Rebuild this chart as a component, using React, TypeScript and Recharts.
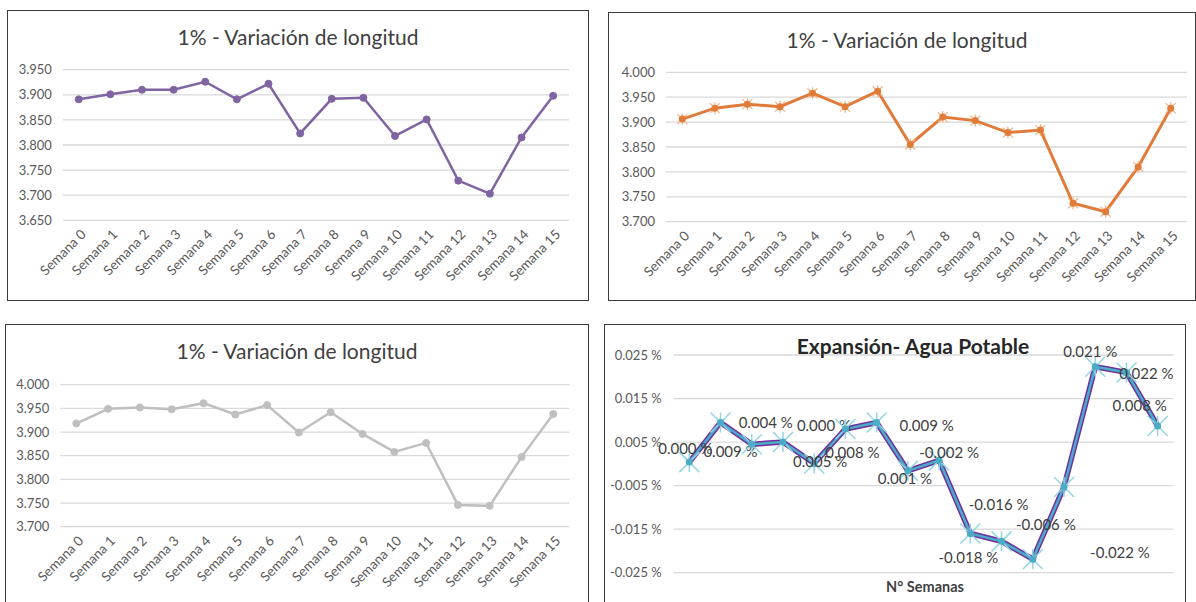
import React from "react";
import { LineChart, Line, XAxis, YAxis, CartesianGrid } from "recharts";

const weeks = [
  "Semana 0", "Semana 1", "Semana 2", "Semana 3", "Semana 4", "Semana 5", "Semana 6", "Semana 7",
  "Semana 8", "Semana 9", "Semana 10", "Semana 11", "Semana 12", "Semana 13", "Semana 14", "Semana 15",
];
const longitudA = [3.891, 3.901, 3.910, 3.910, 3.926, 3.891, 3.922, 3.823, 3.892, 3.894, 3.818, 3.851, 3.729, 3.703, 3.815, 3.898];
const longitudB = [3.906, 3.928, 3.936, 3.931, 3.958, 3.931, 3.962, 3.855, 3.910, 3.903, 3.879, 3.884, 3.737, 3.720, 3.810, 3.928];
const longitudC = [3.918, 3.949, 3.952, 3.948, 3.961, 3.937, 3.957, 3.899, 3.942, 3.896, 3.858, 3.877, 3.746, 3.744, 3.847, 3.938];
const expansion = [0.0004, 0.0095, 0.0045, 0.005, 0.0001, 0.008, 0.0095, -0.0016, 0.0008, -0.016, -0.0178, -0.0219, -0.0053, 0.0223, 0.021, 0.0087];
const expansionLabels = [
  "0.000 %", "0.009 %", "0.004 %", "0.000 %", "0.005 %", "0.008 %", "0.009 %", "0.001 %",
  "-0.002 %", "-0.018 %", "-0.016 %", "-0.006 %", "-0.022 %", "0.021 %", "0.022 %", "0.008 %",
];
const ticksA = [3.65, 3.7, 3.75, 3.8, 3.85, 3.9, 3.95];
const ticksBC = [3.7, 3.75, 3.8, 3.85, 3.9, 3.95, 4.0];
const ticksExp = [-0.025, -0.015, -0.005, 0.005, 0.015, 0.025];

const titleLong = "1% - Variación de longitud";
const titleExp = "Expansión- Agua Potable";
const xTitleExp = "N° Semanas";

// label offsets (style only)
const labelDx = [-4, 10, 14, 41, 6, 7, 50, -3, 10, -2, -3, 13, 56, -5, 20, -18];
const labelDy = [-14, 29, -22, -17, -2, 23, 3, 7, -8, 23, -37, -35, 65, -16, 1, -21];

const FONT = "Lato, 'Open Sans', sans-serif";
const TICK_COLOR = "#595959";

type Frame = { x: number; y: number; w: number; h: number };
type Plot = { l: number; r: number; t: number; b: number };

const SemanaTick = (props: any) => {
  const { x, y, payload } = props;
  const ax = x + 8;
  const ay = y + 15;
  return (
    <text
      x={ax}
      y={ay}
      transform={`rotate(-45 ${ax} ${ay})`}
      textAnchor="end"
      fontSize={13.5}
      fontFamily={FONT}
      fill={TICK_COLOR}
    >
      {payload.value}
    </text>
  );
};

const CircleDot = (color: string, r: number) => (props: any) => {
  const { cx, cy, index } = props;
  if (cx == null || cy == null) return <g key={index} />;
  return <circle key={index} cx={cx} cy={cy} r={r} fill={color} stroke={color} />;
};

const StarDotOrange = (props: any) => {
  const { cx, cy, index } = props;
  if (cx == null || cy == null) return <g key={index} />;
  const s = 5;
  return (
    <g key={index}>
      <line x1={cx - s} y1={cy - s} x2={cx + s} y2={cy + s} stroke="#f4b183" strokeWidth={1.2} />
      <line x1={cx - s} y1={cy + s} x2={cx + s} y2={cy - s} stroke="#f4b183" strokeWidth={1.2} />
      <line x1={cx} y1={cy - s - 1} x2={cx} y2={cy + s + 1} stroke="#f4b183" strokeWidth={1.2} />
      <circle cx={cx} cy={cy} r={3.5} fill="#e07b39" />
    </g>
  );
};

const StarDotCyan = (props: any) => {
  const { cx, cy, index } = props;
  if (cx == null || cy == null) return <g key={index} />;
  const s = 10;
  return (
    <g key={index}>
      <line x1={cx - s} y1={cy - s} x2={cx + s} y2={cy + s} stroke="#92d5e4" strokeWidth={1.5} />
      <line x1={cx - s} y1={cy + s} x2={cx + s} y2={cy - s} stroke="#92d5e4" strokeWidth={1.5} />
      <line x1={cx} y1={cy - s} x2={cx} y2={cy + s} stroke="#92d5e4" strokeWidth={1.5} />
      <circle cx={cx} cy={cy} r={3.5} fill="#4bacc6" />
      <text
        x={cx + labelDx[index]}
        y={cy + labelDy[index]}
        textAnchor="middle"
        dominantBaseline="central"
        fontSize={15}
        fontFamily={FONT}
        fill="#404040"
      >
        {expansionLabels[index]}
      </text>
    </g>
  );
};

function LongChart(props: {
  frame: Frame;
  plot: Plot;
  values: number[];
  ticks: number[];
  color: string;
  dot: any;
  strokeWidth: number;
  titleX: number;
  titleY: number;
}) {
  const { frame, plot, values, ticks, color, dot, strokeWidth, titleX, titleY } = props;
  const data = weeks.map((w, i) => ({ week: w, v: values[i] }));
  const plotW = plot.r - plot.l;
  const pad = plotW / (weeks.length * 2);
  const xAxisH = 70;
  return (
    <>
      <div style={{ position: "absolute", left: frame.x, top: frame.y, width: frame.w, height: frame.h }}>
        <LineChart
          width={frame.w}
          height={frame.h}
          data={data}
          margin={{
            top: plot.t - frame.y,
            right: frame.x + frame.w - plot.r,
            left: 0,
            bottom: frame.y + frame.h - plot.b - xAxisH,
          }}
        >
          <CartesianGrid vertical={false} stroke="#d9d9d9" strokeWidth={1.3} />
          <XAxis
            dataKey="week"
            interval={0}
            tick={<SemanaTick />}
            tickLine={false}
            axisLine={false}
            tickSize={0}
            tickMargin={0}
            height={xAxisH}
            padding={{ left: pad, right: pad }}
          />
          <YAxis
            width={plot.l - frame.x}
            domain={[ticks[0], ticks[ticks.length - 1]]}
            ticks={ticks}
            interval={0}
            tickFormatter={(v: number) => v.toFixed(3)}
            tick={{ fontSize: 13, fill: TICK_COLOR, fontFamily: FONT }}
            tickLine={false}
            axisLine={false}
            tickSize={0}
            tickMargin={11}
          />
          <Line
            type="linear"
            dataKey="v"
            stroke={color}
            strokeWidth={strokeWidth}
            dot={dot}
            activeDot={false}
            isAnimationActive={false}
          />
        </LineChart>
      </div>
      <div
        style={{
          position: "absolute",
          left: titleX,
          top: titleY,
          transform: "translate(-50%, -50%)",
          fontFamily: FONT,
          fontSize: 21,
          color: "#404040",
          whiteSpace: "nowrap",
        }}
      >
        {titleLong}
      </div>
      <div
        style={{
          position: "absolute",
          left: frame.x,
          top: frame.y,
          width: frame.w,
          height: frame.h,
          border: "1.5px solid #3a3a3a",
          boxSizing: "border-box",
          pointerEvents: "none",
        }}
      />
    </>
  );
}

function ExpChart() {
  const frame: Frame = { x: 604, y: 324, w: 582, h: 292 };
  const plot: Plot = { l: 673.7, r: 1173.3, t: 355, b: 572.7 };
  const data = weeks.map((w, i) => ({ week: w, v: expansion[i] }));
  const plotW = plot.r - plot.l;
  const pad = plotW / (weeks.length * 2);
  return (
    <>
      <div style={{ position: "absolute", left: frame.x, top: frame.y, width: frame.w, height: frame.h }}>
        <LineChart
          width={frame.w}
          height={frame.h}
          data={data}
          margin={{
            top: plot.t - frame.y,
            right: frame.x + frame.w - plot.r,
            left: 0,
            bottom: frame.y + frame.h - plot.b,
          }}
        >
          <CartesianGrid vertical={false} stroke="#d9d9d9" strokeWidth={1.3} />
          <XAxis dataKey="week" hide height={0} padding={{ left: pad, right: pad }} />
          <YAxis
            width={plot.l - frame.x}
            domain={[-0.025, 0.025]}
            ticks={ticksExp}
            interval={0}
            tickFormatter={(v: number) => v.toFixed(3) + " %"}
            tick={{ fontSize: 13, fill: TICK_COLOR, fontFamily: FONT }}
            tickLine={false}
            axisLine={false}
            tickSize={0}
            tickMargin={12}
          />
          <Line type="linear" dataKey="v" stroke="#7030a0" strokeWidth={5.5} dot={false} activeDot={false} isAnimationActive={false} />
          <Line type="linear" dataKey="v" stroke="#4bacc6" strokeWidth={2.5} dot={StarDotCyan} activeDot={false} isAnimationActive={false} />
        </LineChart>
      </div>
      <div
        style={{
          position: "absolute",
          left: 913,
          top: 345,
          transform: "translate(-50%, -50%)",
          fontFamily: FONT,
          fontSize: 21,
          fontWeight: 700,
          color: "#262626",
          whiteSpace: "nowrap",
        }}
      >
        {titleExp}
      </div>
      <div
        style={{
          position: "absolute",
          left: 925,
          top: 586,
          transform: "translate(-50%, -50%)",
          fontFamily: FONT,
          fontSize: 14.5,
          fontWeight: 700,
          color: "#404040",
          whiteSpace: "nowrap",
        }}
      >
        {xTitleExp}
      </div>
      <div
        style={{
          position: "absolute",
          left: frame.x,
          top: frame.y,
          width: frame.w,
          height: frame.h,
          border: "1.5px solid #3a3a3a",
          boxSizing: "border-box",
          pointerEvents: "none",
        }}
      />
    </>
  );
}

export default function App() {
  return (
    <div
      style={{
        position: "fixed",
        left: 0,
        top: 0,
        width: 1196,
        height: 602,
        overflow: "hidden",
        background: "#ffffff",
      }}
    >
      <LongChart
        frame={{ x: 7, y: 10, w: 582, h: 291 }}
        plot={{ l: 62.9, r: 569, t: 69.7, b: 220.3 }}
        values={longitudA}
        ticks={ticksA}
        color="#8064a2"
        dot={CircleDot("#8064a2", 3.5)}
        strokeWidth={2.5}
        titleX={298}
        titleY={36}
      />
      <LongChart
        frame={{ x: 608, y: 12, w: 588, h: 289 }}
        plot={{ l: 666, r: 1187, t: 72.3, b: 221.7 }}
        values={longitudB}
        ticks={ticksBC}
        color="#e07b39"
        dot={StarDotOrange}
        strokeWidth={3}
        titleX={907}
        titleY={39}
      />
      <LongChart
        frame={{ x: 5, y: 324, w: 584, h: 292 }}
        plot={{ l: 60.4, r: 569.2, t: 384.7, b: 526.7 }}
        values={longitudC}
        ticks={ticksBC}
        color="#bfbfbf"
        dot={CircleDot("#bfbfbf", 3.5)}
        strokeWidth={2.5}
        titleX={297}
        titleY={350}
      />
      <ExpChart />
    </div>
  );
}
